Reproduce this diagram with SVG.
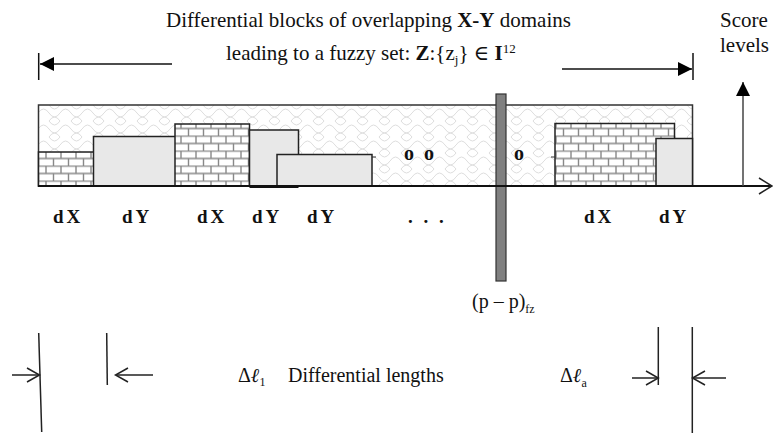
<svg xmlns="http://www.w3.org/2000/svg" width="773" height="433" viewBox="0 0 773 433">
<defs>
<style>
.t{font-family:"Liberation Serif","DejaVu Serif",serif;fill:#111}
.lab{font-family:"Liberation Serif","DejaVu Serif",serif;font-weight:bold;font-size:19px;fill:#111;letter-spacing:3px}
.ln{stroke:#111;stroke-width:1.5;fill:none}
.blk{stroke:#222;stroke-width:1.5}
.gray{fill:#e8e8e8;stroke:#222;stroke-width:1.5}
.oa{stroke:#222;stroke-width:1.5;fill:none}
</style>
<pattern id="fuzzy" patternUnits="userSpaceOnUse" x="38" y="105" width="22" height="16">
<rect width="22" height="16" fill="#fff"/>
<path d="M0 8 q5.5 -8 11 0 q5.5 8 11 0 M-11 16 q5.5 -8 11 0 q5.5 8 11 0 q5.5 -8 11 0 M-11 0 q5.5 8 11 0 q5.5 -8 11 0 q5.5 8 11 0" fill="none" stroke="#dedede" stroke-width="1"/>
</pattern>
<pattern id="brick" patternUnits="userSpaceOnUse" x="0" y="0.5" width="15" height="15">
<rect width="15" height="15" fill="#fff"/>
<path d="M0 0.5 H15 M0 8 H15 M1 0.5 V8 M8.5 8 V15.5" stroke="#888" stroke-width="1.4" fill="none"/>
</pattern>
<marker id="fh" viewBox="0 0 10 10" refX="10" refY="5" markerWidth="14" markerHeight="14" markerUnits="userSpaceOnUse" orient="auto">
<path d="M0 0 L10 5 L0 10 Z" fill="#000"/>
</marker>
</defs>

<g id="title">
<text class="t" x="166" y="27" font-size="21">Differential blocks of overlapping <tspan font-weight="bold">X-Y</tspan> domains</text>
<text class="t" x="226" y="60" font-size="21">leading to a fuzzy set: <tspan font-weight="bold">Z</tspan>:{z<tspan font-size="13" dy="4">j</tspan><tspan dy="-4">} ∈ </tspan><tspan font-weight="bold">I</tspan><tspan font-size="13" dy="-7">12</tspan></text>
</g>

<g id="score-label">
<text class="t" x="720" y="27" font-size="21">Score</text>
<text class="t" x="720" y="52" font-size="21">levels</text>
</g>

<g id="fuzzy-domain">
<rect x="38.5" y="105" width="654" height="81" fill="url(#fuzzy)" stroke="#333" stroke-width="1.5"/>
</g>

<g id="blocks">
<rect class="blk" x="38.5" y="152" width="67" height="34" fill="url(#brick)"/>
<rect class="gray" x="93.5" y="136.5" width="93" height="49.5"/>
<rect class="blk" x="175" y="124" width="74.5" height="62" fill="url(#brick)"/>
<rect class="gray" x="249.5" y="130" width="49" height="56"/>
<line x1="249.5" y1="187" x2="298.5" y2="187" stroke="#111" stroke-width="2"/>
<rect class="gray" x="277" y="154.5" width="95" height="31.5"/>
<line x1="372" y1="157" x2="376" y2="157" stroke="#333" stroke-width="1"/>
<rect class="blk" x="555" y="123.5" width="119.5" height="62.5" fill="url(#brick)"/>
<line x1="551" y1="157" x2="555" y2="157" stroke="#333" stroke-width="1"/>
<rect class="gray" x="656" y="138.5" width="36.5" height="47.5"/>
<text class="t" x="404" y="160" font-size="20" font-weight="bold">o</text>
<text class="t" x="424" y="160" font-size="20" font-weight="bold">o</text>
<text class="t" x="514" y="160" font-size="20" font-weight="bold">o</text>
</g>

<g id="pole">
<rect x="496" y="94" width="10" height="187" fill="#808080" stroke="#333" stroke-width="1.2"/>
<text class="t" x="472" y="308" font-size="20">(p – p)<tspan font-size="12" dy="5">fz</tspan></text>
</g>

<g id="labels">
<text class="lab" x="53" y="223">dX</text>
<text class="lab" x="122" y="223">dY</text>
<text class="lab" x="197" y="223">dX</text>
<text class="lab" x="252" y="223">dY</text>
<text class="lab" x="307" y="223">dY</text>
<text class="lab" x="408" y="223">. . .</text>
<text class="lab" x="584" y="223">dX</text>
<text class="lab" x="659" y="223">dY</text>
</g>

<g id="diff-lengths">
<text class="t" x="238" y="382" font-size="20">Δ<tspan font-weight="bold" font-style="italic">ℓ</tspan><tspan font-size="12" dy="4">1</tspan></text>
<text class="t" x="288" y="382" font-size="20">Differential lengths</text>
<text class="t" x="560" y="382" font-size="20">Δ<tspan font-weight="bold" font-style="italic">ℓ</tspan><tspan font-size="12" dy="5">a</tspan></text>
</g>

<g id="connectors">
<line class="ln" x1="38.7" y1="53" x2="38.7" y2="80"/>
<line class="ln" x1="172" y1="64" x2="40" y2="64" marker-end="url(#fh)"/>
<line class="ln" x1="693" y1="53" x2="693" y2="80"/>
<line class="ln" x1="562" y1="69" x2="692" y2="69" marker-end="url(#fh)"/>
<line x1="38" y1="186" x2="772" y2="186" stroke="#111" stroke-width="2"/>
<path class="oa" d="M759 178 L772 186 L759 194"/>
<line x1="743" y1="186" x2="743" y2="82" stroke="#444" stroke-width="1.5" marker-end="url(#fh)"/>
<line class="oa" x1="38.7" y1="333" x2="41.7" y2="432"/>
<line class="oa" x1="106.7" y1="333" x2="107.3" y2="385"/>
<line class="oa" x1="12" y1="375" x2="39" y2="375"/>
<path class="oa" d="M27 368 L39.5 375 L27 382"/>
<line class="oa" x1="153" y1="375" x2="116" y2="375"/>
<path class="oa" d="M128 368 L115.5 375 L128 382"/>
<line class="oa" x1="658.3" y1="327" x2="658.3" y2="385"/>
<line class="oa" x1="692.3" y1="327" x2="692.3" y2="433"/>
<line class="oa" x1="632" y1="378" x2="658" y2="378"/>
<path class="oa" d="M646 371 L658.3 378 L646 385"/>
<line class="oa" x1="726" y1="378" x2="693" y2="378"/>
<path class="oa" d="M705 371 L692.5 378 L705 385"/>
</g>
</svg>
